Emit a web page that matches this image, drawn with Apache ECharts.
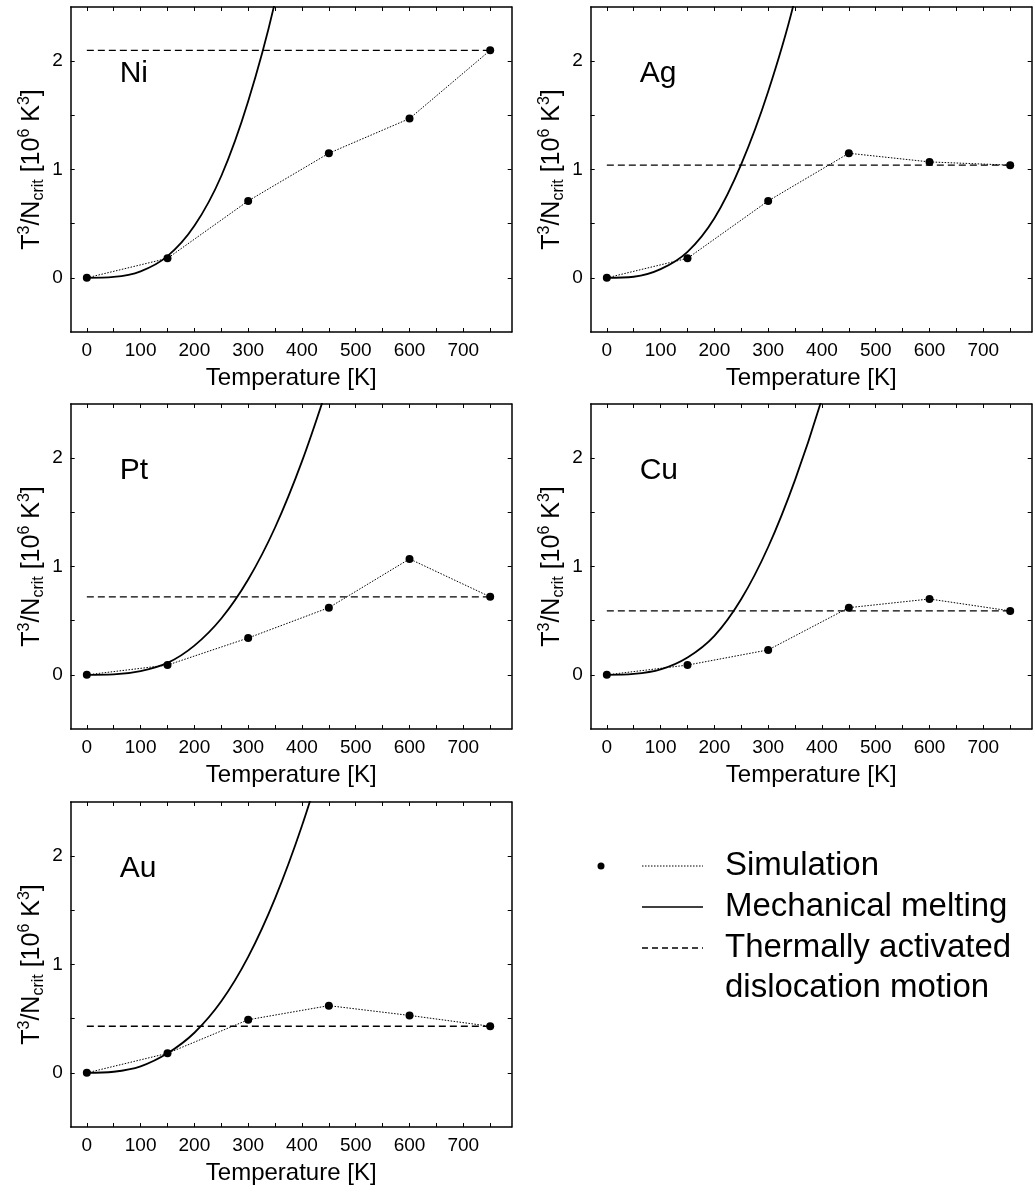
<!DOCTYPE html>
<html><head><meta charset="utf-8">
<script src="https://cdn.jsdelivr.net/npm/echarts@6/dist/echarts.min.js"></script>
<style>html,body{margin:0;padding:0;background:#fff}#c{width:1035px;height:1192px}</style>
</head><body><div id="c"></div>
<script>
// ---- data ----
const elements = ['Ni', 'Ag', 'Pt', 'Cu', 'Au'];
const simTemps = [0, 150, 300, 450, 600, 750];
const simNi = [0, 0.18, 0.71, 1.15, 1.47, 2.10];
const simAg = [0, 0.18, 0.71, 1.15, 1.07, 1.04];
const simPt = [0, 0.09, 0.34, 0.62, 1.07, 0.72];
const simCu = [0, 0.09, 0.23, 0.62, 0.70, 0.59];
const simAu = [0, 0.18, 0.49, 0.62, 0.53, 0.43];
const thermalLevels = [2.10, 1.04, 0.72, 0.59, 0.43];
const thermalRange = [0, 750];
const meltTemps = [0, 50, 100, 150, 200, 250, 300, 350, 400, 450];
const meltNi = [0, 0.008, 0.06, 0.20, 0.48, 0.94, 1.63, 2.55, 3.80];
const meltAg = [0, 0.010, 0.08, 0.24, 0.55, 1.05, 1.72, 2.58, 3.80];
const meltPt = [0, 0.004, 0.035, 0.11, 0.27, 0.52, 0.88, 1.36, 1.97, 2.70];
const meltCu = [0, 0.008, 0.05, 0.16, 0.36, 0.70, 1.18, 1.80, 2.55, 3.45];
const meltAu = [0, 0.010, 0.06, 0.18, 0.37, 0.66, 1.07, 1.61, 2.28, 3.08];
const xTickValues = [0, 50, 100, 150, 200, 250, 300, 350, 400, 450, 500, 550, 600, 650, 700, 750];
const xLabelValues = [0, 100, 200, 300, 400, 500, 600, 700];
const yTickValues = [0, 0.5, 1, 1.5, 2];
const yLabelValues = [0, 1, 2];
const xRange = [-30, 790];
const yRange = [-0.5, 2.5];
const legendLabels = ['Simulation', 'Mechanical melting', 'Thermally activated', 'dislocation motion'];

const simSets = [simNi, simAg, simPt, simCu, simAu];
const meltSets = [meltNi, meltAg, meltPt, meltCu, meltAu];

// ---- layout ----
const FONT = 'Liberation Sans';
const panelLeft = [70.7, 590.7, 70.7, 590.7, 70.7];
const panelTop = [7, 7, 404, 404, 802];
const panelW = 441, panelH = 325;

const grid = [], xAxis = [], yAxis = [], series = [], graphic = [];
const axisLine = { show: true, onZero: false, lineStyle: { color: '#000', width: 1.5 } };

elements.forEach((el, i) => {
  grid.push({ left: panelLeft[i], top: panelTop[i], width: panelW, height: panelH, containLabel: false });
  xAxis.push({
    type: 'value', gridIndex: i, position: 'bottom', min: xRange[0], max: xRange[1],
    axisLine, splitLine: { show: false },
    axisTick: { show: true, inside: true, length: 4, customValues: xTickValues, lineStyle: { color: '#000', width: 1 } },
    axisLabel: { show: true, customValues: xLabelValues, color: '#000', fontSize: 19, fontFamily: FONT, margin: 9 },
    name: 'Temperature [K]', nameLocation: 'middle', nameGap: 34,
    nameTextStyle: { color: '#000', fontSize: 24, fontFamily: FONT }
  });
  xAxis.push({
    type: 'value', gridIndex: i, position: 'top', min: xRange[0], max: xRange[1],
    axisLine, splitLine: { show: false },
    axisTick: { show: true, inside: true, length: 4, customValues: xTickValues, lineStyle: { color: '#000', width: 1 } },
    axisLabel: { show: false }
  });
  yAxis.push({
    type: 'value', gridIndex: i, position: 'left', min: yRange[0], max: yRange[1],
    axisLine, splitLine: { show: false },
    axisTick: { show: true, inside: true, length: 4, customValues: yTickValues, lineStyle: { color: '#000', width: 1 } },
    axisLabel: { show: true, customValues: yLabelValues, color: '#000', fontSize: 19, fontFamily: FONT, margin: 8 },
    name: '{b|T}{sup|3}{b|/N}{sub|crit}{b| [10}{sup|6}{b| K}{sup|3}{b|]}',
    nameLocation: 'middle', nameGap: 24, nameRotate: 90,
    nameTextStyle: {
      color: '#000', fontFamily: FONT,
      rich: {
        b: { fontSize: 25, fontFamily: FONT, color: '#000', lineHeight: 30 },
        sup: { fontSize: 16, fontFamily: FONT, color: '#000', lineHeight: 16, verticalAlign: 'top' },
        sub: { fontSize: 16, fontFamily: FONT, color: '#000', lineHeight: 16, verticalAlign: 'bottom' }
      }
    }
  });
  yAxis.push({
    type: 'value', gridIndex: i, position: 'right', min: yRange[0], max: yRange[1],
    axisLine, splitLine: { show: false },
    axisTick: { show: true, inside: true, length: 4, customValues: yTickValues, lineStyle: { color: '#000', width: 1 } },
    axisLabel: { show: false }
  });

  const xi = 2 * i, yi = 2 * i;
  series.push({
    type: 'line', xAxisIndex: xi, yAxisIndex: yi, silent: true, clip: true,
    data: meltSets[i].map((v, k) => [meltTemps[k], v]),
    smooth: 0.35, showSymbol: false, symbol: 'none',
    lineStyle: { color: '#000', width: 1.8, type: 'solid' }, z: 2
  });
  series.push({
    type: 'line', xAxisIndex: xi, yAxisIndex: yi, silent: true,
    data: thermalRange.map(t => [t, thermalLevels[i]]),
    showSymbol: false, symbol: 'none',
    lineStyle: { color: '#000', width: 1.4, type: [7, 4] }, z: 3
  });
  series.push({
    type: 'line', xAxisIndex: xi, yAxisIndex: yi, silent: true,
    data: simSets[i].map((v, k) => [simTemps[k], v]),
    showSymbol: true, symbol: 'circle', symbolSize: 8,
    itemStyle: { color: '#000' },
    lineStyle: { color: '#000', width: 1, type: [1.5, 1.5] }, z: 4
  });

  graphic.push({
    type: 'text', left: panelLeft[i] + 49, top: panelTop[i] + 52,
    style: { text: el, fontSize: 30, fontFamily: FONT, fill: '#000' }
  });
});

const lgX0 = 642, lgX1 = 703, lgTextX = 725;
const lgY = [866, 907, 948, 988];
graphic.push(
  { type: 'circle', shape: { cx: 601, cy: lgY[0], r: 3.5 }, style: { fill: '#000' } },
  { type: 'line', shape: { x1: lgX0, y1: lgY[0], x2: lgX1, y2: lgY[0] }, style: { stroke: '#000', lineWidth: 1, lineDash: [1.5, 1.5] } },
  { type: 'line', shape: { x1: lgX0, y1: lgY[1], x2: lgX1, y2: lgY[1] }, style: { stroke: '#000', lineWidth: 1.5 } },
  { type: 'line', shape: { x1: lgX0, y1: lgY[2], x2: lgX1, y2: lgY[2] }, style: { stroke: '#000', lineWidth: 1.3, lineDash: [6, 4] } }
);
legendLabels.forEach((t, k) => {
  graphic.push({
    type: 'text', x: lgTextX, y: lgY[k],
    style: { text: t, fontSize: 33, fontFamily: FONT, fill: '#000', verticalAlign: 'middle', align: 'left' }
  });
});

const chart = echarts.init(document.getElementById('c'), null, { renderer: 'canvas' });
chart.setOption({
  backgroundColor: '#fff', animation: false,
  grid, xAxis, yAxis, series, graphic
});
</script></body></html>
